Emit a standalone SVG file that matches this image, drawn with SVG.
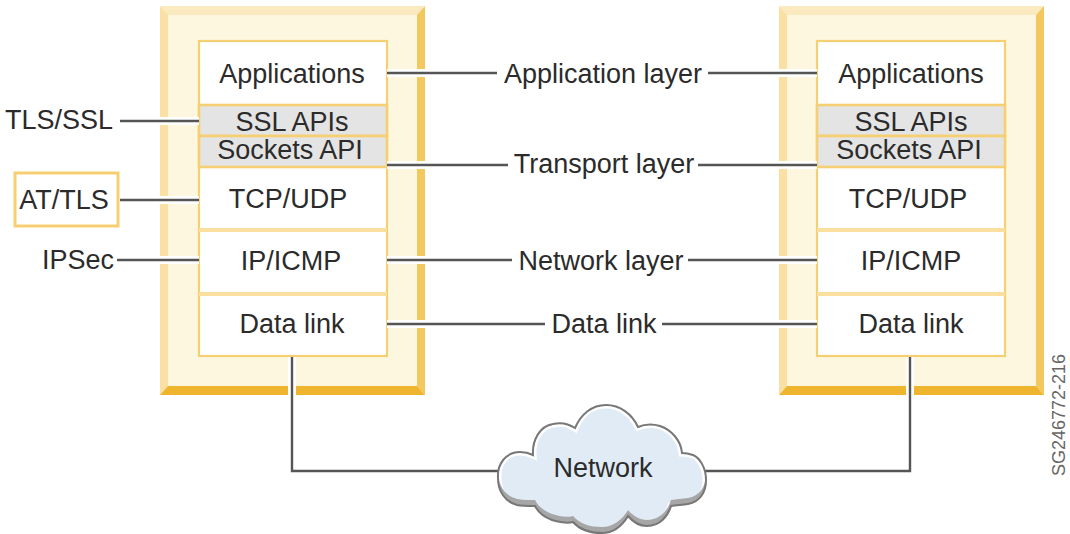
<svg xmlns="http://www.w3.org/2000/svg" xmlns:xlink="http://www.w3.org/1999/xlink" width="1070" height="534" viewBox="0 0 1070 534">
<defs>
<style>
text{font-family:"Liberation Sans",Arial,sans-serif;font-size:27px;fill:#2b2b2b;text-anchor:middle}
.c{fill:none;stroke:#555;stroke-width:2.4}
.halo{fill:none;stroke:#fff;stroke-width:8}
.row{fill:#fff;stroke:#f6cf72;stroke-width:2.2}
.api{fill:#e4e4e4;stroke:#f6cf72;stroke-width:2.6}
.sep{fill:none;stroke:#fadf9f;stroke-width:4}
</style>
<path id="cloud" d="M498 478C497 464 506 452 520 452C525 452 529 453 533 455C532 440 540 426 553 424C561 422 569 424 575 428C581 414 592 405 606 405C620 405 632 414 638 427C645 424 653 424 660 426C672 430 681 441 682 453C686 453 690 454 693 455C700 458 706 468 706 480C706 492 700 502 688 504C682 505 676 505 671 506C668 516 660 526 647 526C640 526 633 522 628 516C622 526 613 533 602 533C590 533 580 530 573 522C566 524 559 522 552 520C544 517 538 512 535 506C528 506 522 506 517 505C505 502 498 491 498 478Z"/>
<clipPath id="cloudclip"><use href="#cloud"/></clipPath>
<mask id="shade" maskUnits="userSpaceOnUse" x="490" y="400" width="225" height="134">
<rect x="490" y="400" width="225" height="134" fill="#fff"/>
<use href="#cloud" y="-6" fill="#000"/>
</mask>
<g id="stackbg">
<rect x="160" y="6" width="265" height="389" fill="#fef7e0"/>
<polygon points="160,6 425,6 417,15 168,15" fill="#fbeac0"/>
<polygon points="160,6 168,15 168,386 160,395" fill="#fbe0a4"/>
<polygon points="425,6 425,395 417,386 417,15" fill="#f3c95f"/>
<polygon points="160,395 168,386 417,386 425,395" fill="#f0b52e"/>
</g>
<g id="stackrows">
<rect class="row" x="199" y="41" width="188" height="315"/>
<rect class="api" x="199" y="105" width="188" height="31"/>
<rect class="api" x="199" y="136" width="188" height="31"/>
<path class="sep" d="M199 230H387M199 294H387"/>
</g>
</defs>
<rect width="1070" height="534" fill="#fff"/>
<g id="stack-left">
<use href="#stackbg"/><use href="#stackrows"/>
<text x="292" y="83">Applications</text>
<text x="292" y="131">SSL APIs</text>
<text x="290" y="159">Sockets API</text>
<text x="288" y="208">TCP/UDP</text>
<text x="291" y="270">IP/ICMP</text>
<text x="292" y="333">Data link</text>
</g>
<g id="stack-right">
<use href="#stackbg" x="619"/><use href="#stackrows" x="618"/>
<text x="911" y="83">Applications</text>
<text x="911" y="131">SSL APIs</text>
<text x="909" y="159">Sockets API</text>
<text x="908" y="208">TCP/UDP</text>
<text x="911" y="270">IP/ICMP</text>
<text x="911" y="333">Data link</text>
</g>
<g id="connectors">
<path class="halo" d="M387 73H497M708 73H817M387 165H508M698 165H817M387 260H512M688 260H817M387 324H545M662 324H817M120 121H199M120 200H199M117 260H199M292 357V470M910 357V470"/>
<path class="c" d="M387 73H497M708 73H817M387 165H508M698 165H817M387 260H512M688 260H817M387 324H545M662 324H817M120 121H199M120 200H199M117 260H199"/>
<path class="c" d="M292 357V471H500M910 357V471H704"/>
</g>
<g id="at-tls">
<rect x="15" y="173" width="103" height="53" fill="#fff" stroke="#f6cf72" stroke-width="3"/>
<text x="64" y="209">AT/TLS</text>
</g>
<g id="tls-ssl"><text x="59" y="129">TLS/SSL</text></g>
<g id="ipsec"><text x="78" y="269">IPSec</text></g>
<g id="layer-labels">
<text x="603" y="83">Application layer</text>
<text x="604" y="173">Transport layer</text>
<text x="601" y="270">Network layer</text>
<text x="604" y="333">Data link</text>
</g>
<g id="network">
<use href="#cloud" fill="#e1ebf5"/>
<g clip-path="url(#cloudclip)">
<use href="#cloud" fill="none" stroke="#fff" stroke-width="7"/>
<rect x="490" y="400" width="225" height="134" fill="#a6a6a6" mask="url(#shade)"/>
</g>
<use href="#cloud" fill="none" stroke="#777" stroke-width="2"/>
<text x="603" y="477">Network</text>
</g>
<g id="figure-id"><text transform="translate(1065 415) rotate(-90)" style="font-size:18px;fill:#666">SG246772-216</text></g>
</svg>
